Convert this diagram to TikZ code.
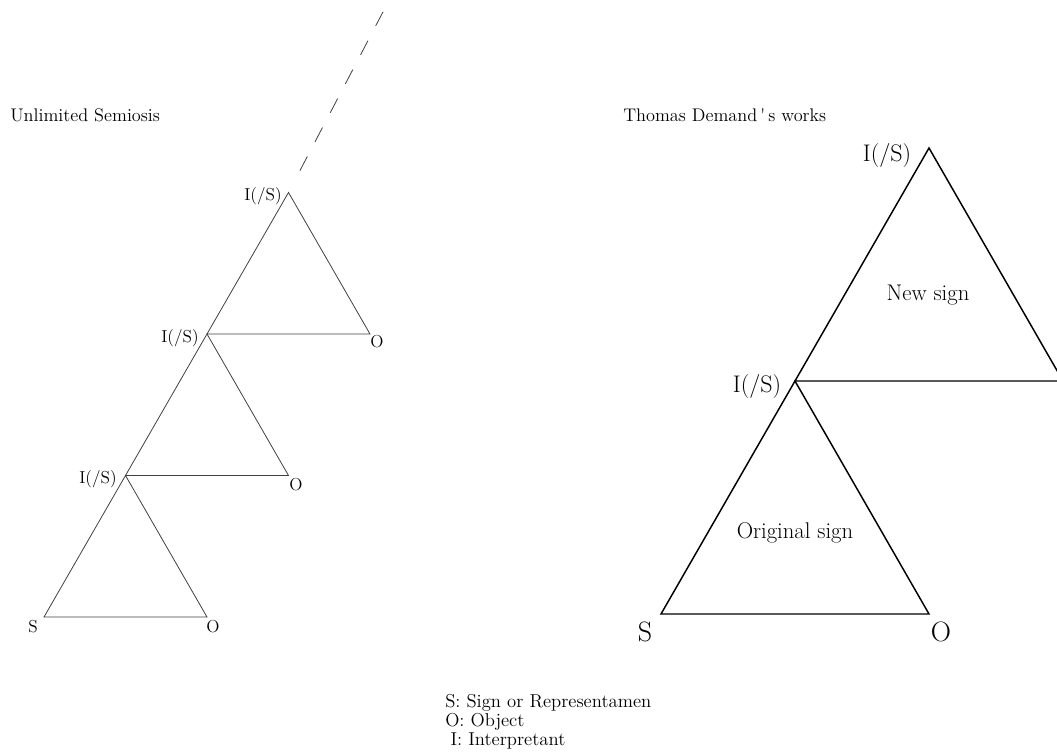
\documentclass[tikz,border=0pt]{standalone}
\usepackage{tikz}
\usetikzlibrary{calc}

\tikzset{
  thinline/.style={line width=0.6pt, black!75},
  thickline/.style={line width=1.1pt},
  smalllabel/.style={font=\fontsize{13}{14}\selectfont, inner sep=0pt},
  titlelabel/.style={font=\fontsize{13.7}{15}\selectfont, inner sep=0pt},
  legendlabel/.style={font=\fontsize{14}{14.4}\selectfont, inner sep=0pt},
  midlabel/.style={font=\fontsize{17}{19}\selectfont, inner sep=0pt},
  biglabel/.style={font=\fontsize{18}{20}\selectfont, inner sep=0pt},
  vertexlabel/.style={font=\fontsize{21}{23}\selectfont, inner sep=0pt},
}

\begin{document}
\begin{tikzpicture}[x=0.75pt,y=-0.75pt]
  \useasboundingbox (0,0) rectangle (1057,756);
  \clip (0,0) rectangle (1057,756);

  % left: unlimited semiosis, one triangle on top of the other
  \foreach \k in {0,1,2} {
    \coordinate (s\k) at ({44+81.5*\k},{617-141.5*\k});
    \coordinate (o\k) at ({207+81.5*\k},{617-141.5*\k});
    \coordinate (i\k) at ({125.5+81.5*\k},{475.5-141.5*\k});
    \draw[thinline] (s\k) -- (o\k) -- (i\k) -- cycle;
  }
  \coordinate (far) at (384,10);
  \draw[thinline, dash pattern=on 12pt off 12.5pt, dash phase=12pt, shorten <=6pt] (i2) -- (far);

  \node[titlelabel, anchor=west] (titleleft) at (10,115) {Unlimited Semiosis};
  \node[smalllabel] (ls) at (33,627) {S};
  \node[smalllabel] (lo0) at (213,627) {O};
  \node[smalllabel] (lo1) at (296,485) {O};
  \node[smalllabel] (lo2) at (377,342) {O};
  \node[smalllabel] (li0) at (98,479) {I(/S)};
  \node[smalllabel] (li1) at (180,338) {I(/S)};
  \node[smalllabel] (li2) at (263,196) {I(/S)};

  % right: the original sign and the new sign
  \coordinate (rs) at (661,614);
  \coordinate (ro) at (929,614);
  \coordinate (ri) at (795,381);
  \coordinate (ro2) at (1063,381);
  \coordinate (ri2) at (929,148);
  \draw[thickline] (rs) -- (ro) -- (ri) -- cycle;
  \draw[thickline] (ri) -- (ro2) -- (ri2) -- cycle;

  \node[titlelabel, anchor=west] (titleright) at (623,115) {Thomas Demand\,\textquotesingle\,s works};
  \node[vertexlabel] (rls) at (645,632) {S};
  \node[vertexlabel] (rlo) at (941,632) {O};
  \node[biglabel] (rli) at (757,387) {I(/S)};
  \node[biglabel] (rli2) at (887,156) {I(/S)};
  \node[midlabel] (newsign) at (928,295) {New sign};
  \node[midlabel] (origsign) at (795,533) {Original sign};

  % legend
  \node[legendlabel, anchor=north west, align=left] (legend) at (445,694)
    {S: Sign or Representamen\\ O: Object\\ \hspace*{4pt}I: Interpretant};
\end{tikzpicture}
\end{document}
